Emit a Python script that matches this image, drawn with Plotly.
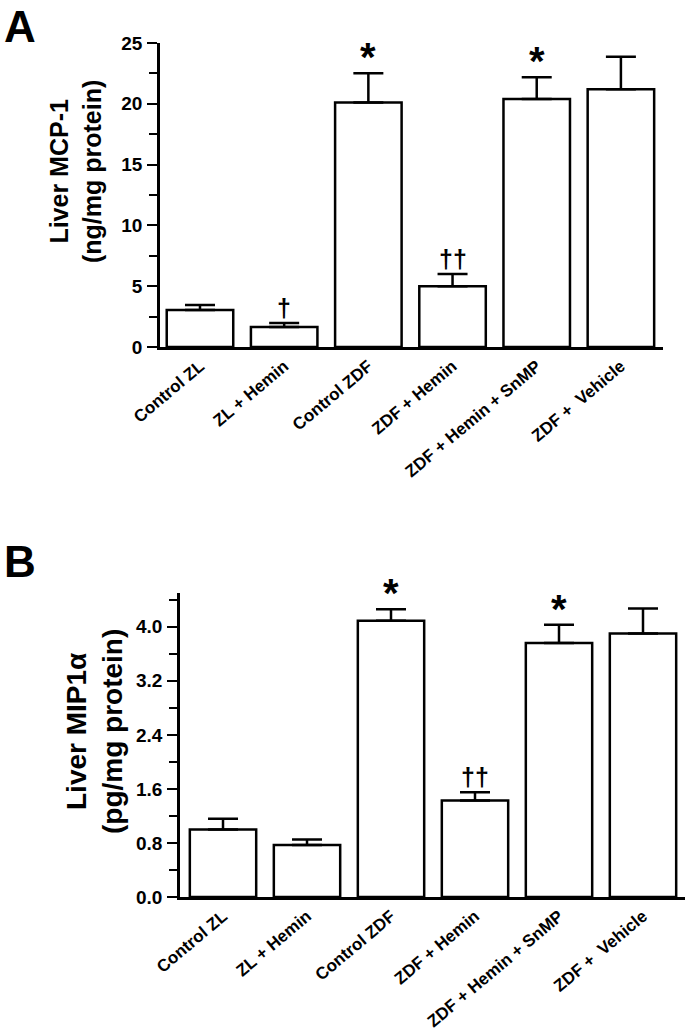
import plotly.graph_objects as go

categories = ["Control ZL", "ZL + Hemin", "Control ZDF", "ZDF + Hemin",
              "ZDF + Hemin + SnMP", "ZDF +  Vehicle"]

mcp1_mean = [3.05, 1.65, 20.1, 5.0, 20.4, 21.2]
mcp1_sem = [0.41, 0.33, 2.42, 1.01, 1.78, 2.66]
mcp1_marks = ["", "†", "*", "††", "*", ""]

mip1a_mean = [1.0, 0.77, 4.09, 1.43, 3.76, 3.90]
mip1a_sem = [0.16, 0.08, 0.17, 0.12, 0.27, 0.37]
mip1a_marks = ["", "", "*", "††", "*", ""]

W, H = 692, 1033
FONT = "Liberation Sans, Arial, Helvetica, sans-serif"

def px_x(p):
    return p / W

def px_y(p):
    return (H - p) / H

fig = go.Figure()

idx = list(range(len(categories)))

for xa, ya, mean, sem in [("x", "y", mcp1_mean, mcp1_sem),
                          ("x2", "y2", mip1a_mean, mip1a_sem)]:
    fig.add_trace(go.Bar(
        x=idx, y=mean, xaxis=xa, yaxis=ya, width=0.79,
        marker=dict(color="white", line=dict(color="black", width=2.5)),
        error_y=dict(type="data", symmetric=False, array=sem,
                     arrayminus=[0] * len(sem), color="black",
                     thickness=2.5, width=15),
        showlegend=False, hoverinfo="skip",
    ))

common_x = dict(tickmode="array", tickvals=idx, ticktext=categories,
                tickangle=-40, ticks="", showline=True, linecolor="black",
                linewidth=2.5, showgrid=False, zeroline=False,
                tickfont=dict(family=FONT, size=17, color="black",
                              weight="bold"),
                automargin=False)
common_y = dict(ticks="outside", ticklen=10, tickwidth=2, tickcolor="black",
                showline=True, linecolor="black", linewidth=2.5,
                showgrid=False, zeroline=False, ticklabelstandoff=1,
                tickfont=dict(family=FONT, size=19, color="black",
                              weight="bold"),
                automargin=False)

fig.update_layout(
    width=W, height=H,
    margin=dict(l=0, r=0, t=0, b=0),
    paper_bgcolor="white", plot_bgcolor="white",
    xaxis=dict(common_x, domain=[px_x(160), px_x(663)], range=[-0.475, 5.5],
               anchor="y"),
    yaxis=dict(common_y, domain=[px_y(347), px_y(43)], range=[0, 25],
               tick0=0, dtick=5, anchor="x",
               minor=dict(ticks="outside", ticklen=8, dtick=2.5,
                          tickwidth=2, tickcolor="black")),
    xaxis2=dict(common_x, domain=[px_x(180), px_x(685)], range=[-0.512, 5.5],
                anchor="y2"),
    yaxis2=dict(common_y, domain=[px_y(897), px_y(593)], range=[0, 4.5],
                tick0=0, dtick=0.8, tickformat=".1f", anchor="x2",
                minor=dict(ticks="outside", ticklen=8, dtick=0.4,
                           tickwidth=2, tickcolor="black")),
)

ann = []
# panel letters
ann.append(dict(text="A", x=px_x(2), y=1.0, xref="paper", yref="paper",
                xanchor="left", yanchor="top", showarrow=False,
                font=dict(family=FONT, size=44, color="black", weight="bold")))
ann.append(dict(text="B", x=px_x(2), y=px_y(561), xref="paper", yref="paper",
                xanchor="left", yanchor="middle", showarrow=False,
                font=dict(family=FONT, size=44, color="black", weight="bold")))
# y titles
ann.append(dict(text="Liver MCP-1<br>(ng/mg protein)", x=px_x(76), y=px_y(172),
                xref="paper", yref="paper", textangle=-90, showarrow=False,
                xanchor="center", yanchor="middle",
                font=dict(family=FONT, size=25, color="black", weight="bold")))
ann.append(dict(text="Liver MIP1α<br>(pg/mg protein)", x=px_x(94), y=px_y(731),
                xref="paper", yref="paper", textangle=-90, showarrow=False,
                xanchor="center", yanchor="middle",
                font=dict(family=FONT, size=28, color="black", weight="bold")))

# significance marks
for xr, yr, mean, sem, marks in [("x", "y", mcp1_mean, mcp1_sem, mcp1_marks),
                                 ("x2", "y2", mip1a_mean, mip1a_sem, mip1a_marks)]:
    for i, m in enumerate(marks):
        if not m:
            continue
        if m == "*":
            f = dict(family=FONT, size=40, color="black", weight="bold")
            ys = -8
        else:
            f = dict(family=FONT, size=25, color="black", weight="bold")
            ys = -1
        ann.append(dict(text=m, x=i, y=mean[i] + sem[i], xref=xr, yref=yr,
                        xanchor="center", yanchor="bottom", yshift=ys,
                        showarrow=False, font=f))

fig.update_layout(annotations=ann)
fig.write_html("out.html", config={"displayModeBar": False},
               post_script="document.body.style.margin='0';")
